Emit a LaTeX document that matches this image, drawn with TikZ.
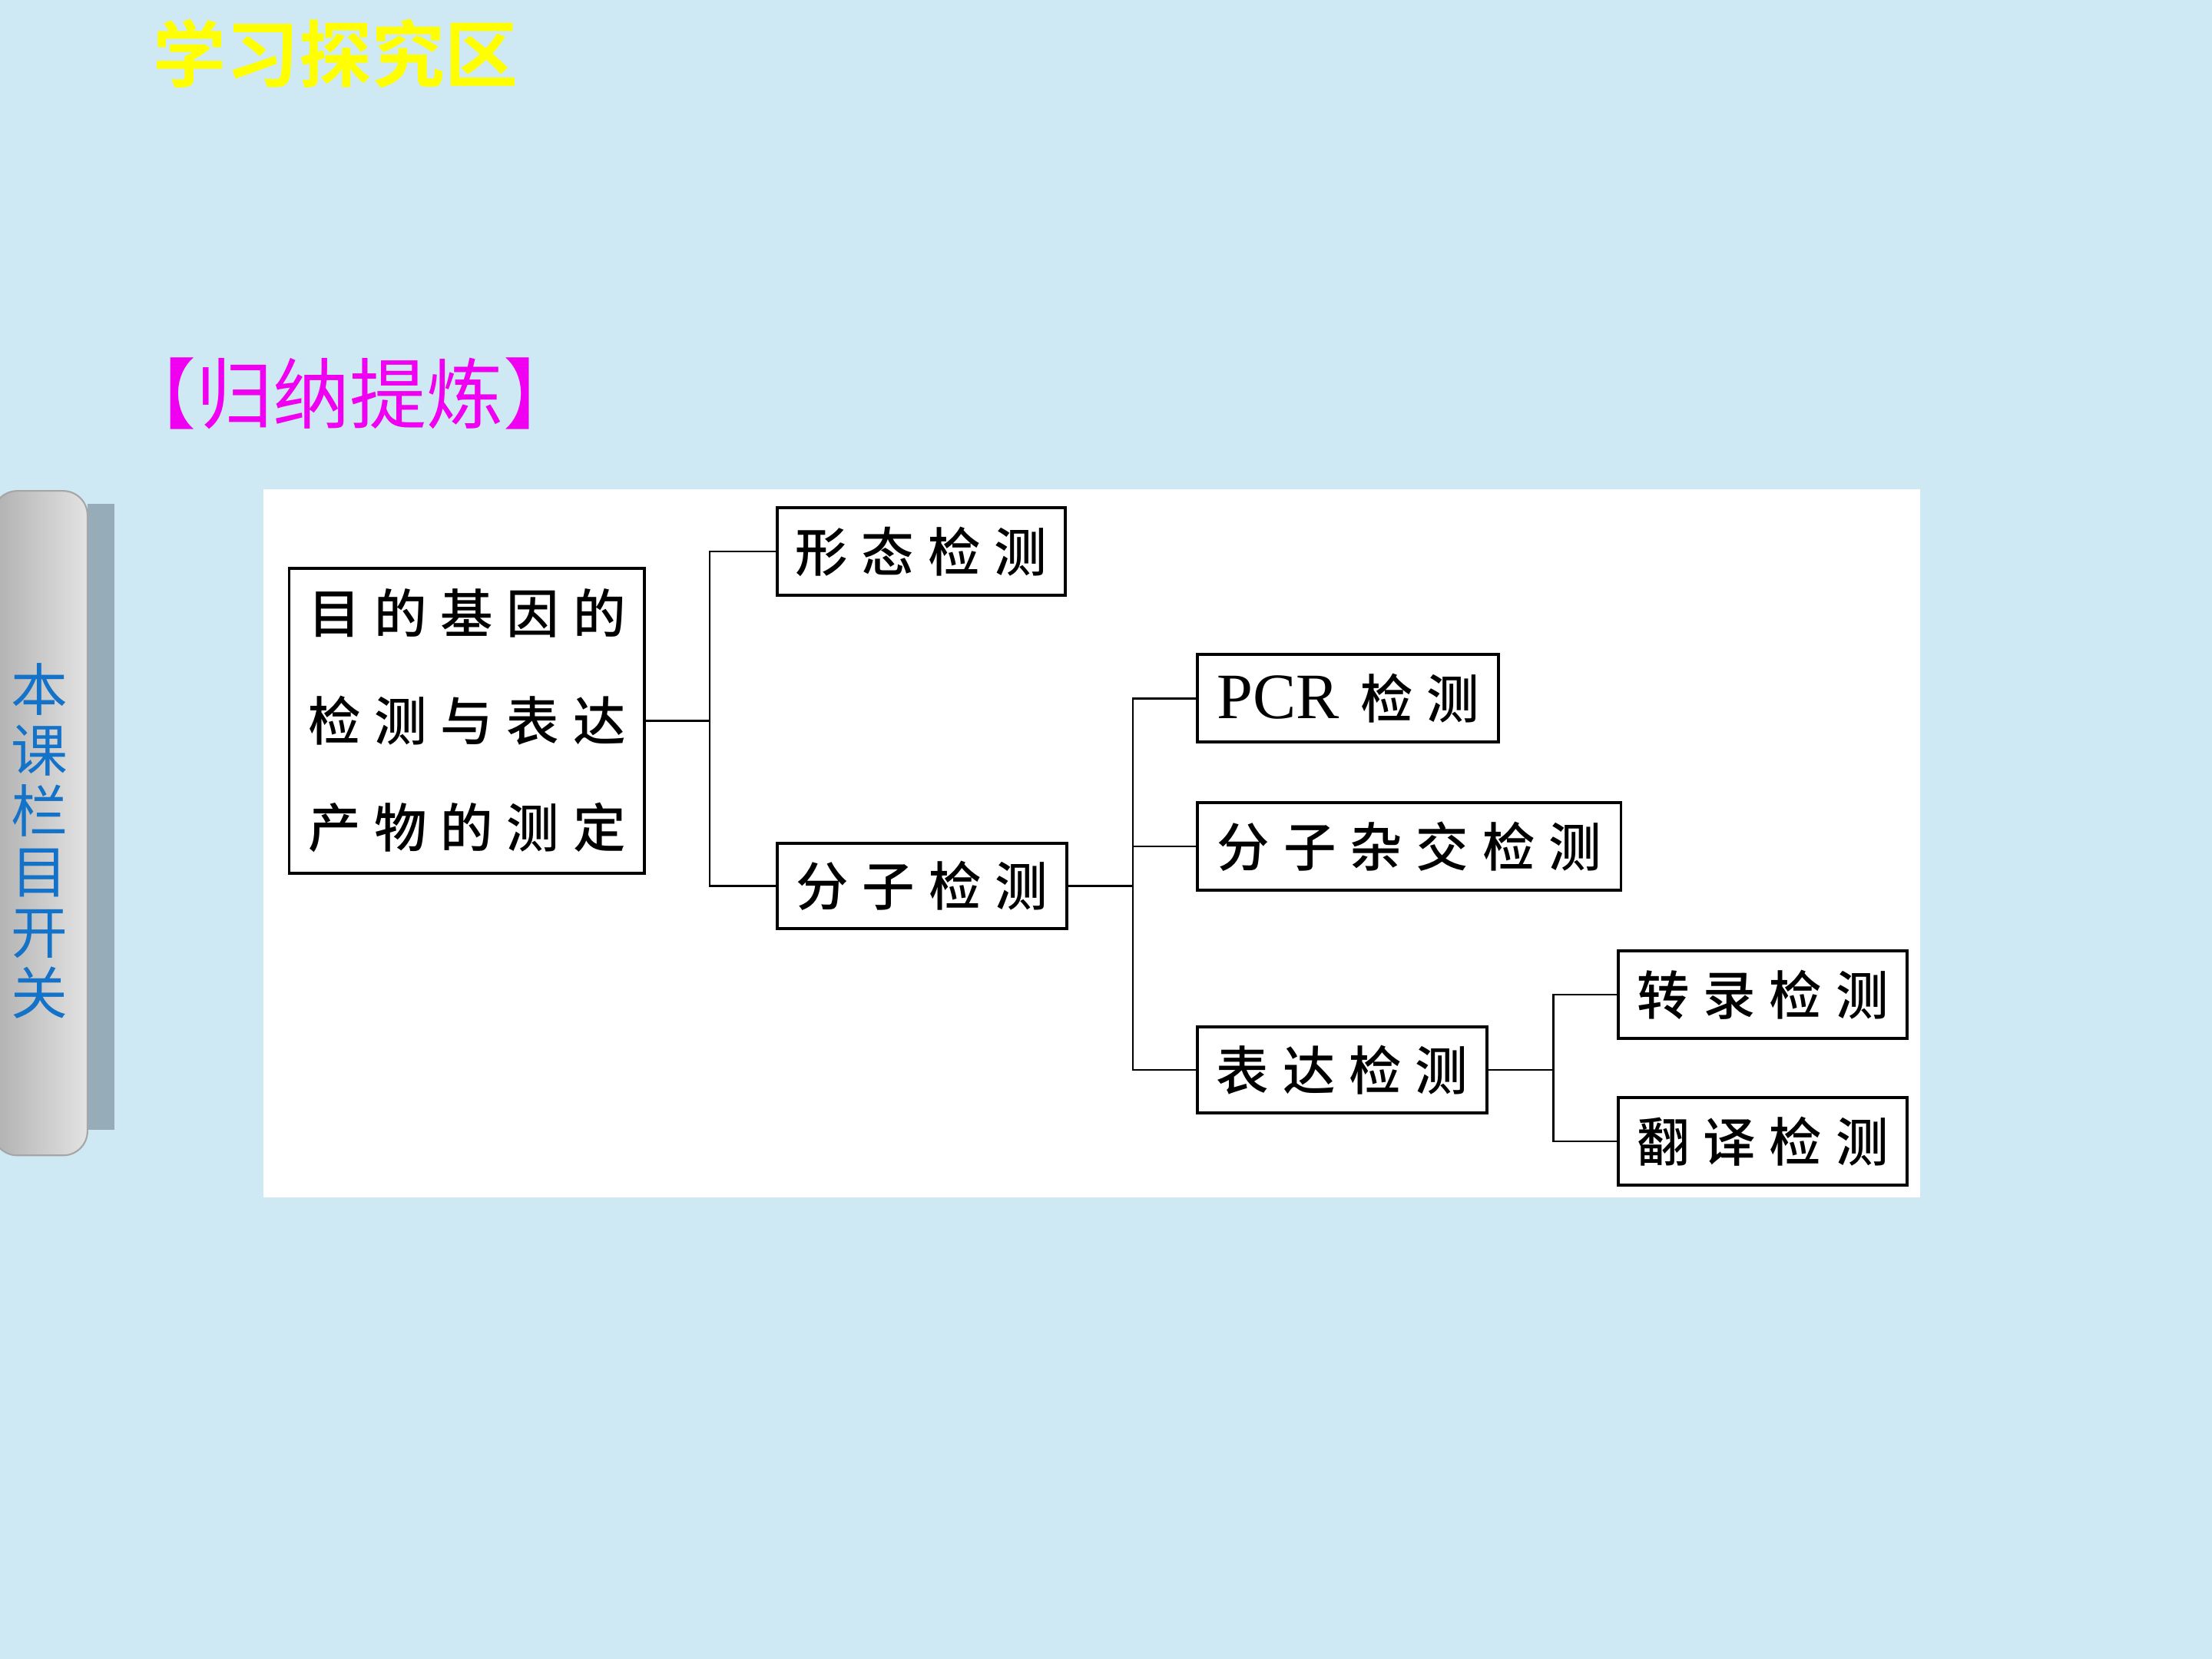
\documentclass[tikz,border=0pt]{standalone}
\usepackage{fontspec}
\newfontfamily\cjk{Noto Sans CJK SC}
\newfontfamily\cjkm{Noto Sans CJK SC Medium}
\newfontfamily\cjkb{Noto Sans CJK SC Bold}
\setmainfont{Liberation Serif}
\definecolor{bgblue}{RGB}{207,233,244}
\definecolor{tabblue}{RGB}{20,115,200}
\definecolor{shadowc}{RGB}{150,172,184}
\definecolor{ttlyellow}{RGB}{255,255,0}
\definecolor{ttlmag}{RGB}{240,0,240}
\newcommand\gp{\hspace{0.26em}}
\def\u{0.018367cm}
\tikzset{
  box/.style={draw=black, line width=1.1pt, fill=white, inner sep=0pt, anchor=center,
    font=\cjkm\fontsize{19.5}{24}\selectfont},
  conn/.style={draw=black, line width=0.75pt},
}
\begin{document}
\begin{tikzpicture}[x=0.018367cm, y=-0.018367cm]
\useasboundingbox (0,0) rectangle (1568,1176);
\fill[bgblue] (0,0) rectangle (1568,1176);
% titles
\node[text=ttlyellow, font=\cjkb\fontsize{27}{30}\selectfont, inner sep=0pt] (title) at (238,38) {学习探究区};
\node[text=ttlmag, font=\cjk\fontsize{28.5}{32}\selectfont, inner sep=0pt] (sub) at (248,279) {【归纳提炼】};
% side tab
\fill[shadowc] (62,357) rectangle (81,801);
\shade[left color=gray!62, right color=gray!22, rounded corners=9, draw=gray!70, line width=0.6pt]
  (-5,348) -- (62,348) -- (62,819) -- (-5,819) -- cycle;
\node[text=tabblue, font=\cjk\fontsize{21}{22.5}\selectfont, align=center, inner sep=0pt] (tab) at (28,596)
  {本\\课\\栏\\目\\开\\关};
% panel
\fill[white] (187,347) rectangle (1361,849);
% boxes
\node[box, minimum width=252*\u, minimum height=216*\u, align=center,
  font=\cjkm\fontsize{19.5}{39.7}\selectfont] (root) at (331,511)
  {目\gp{}的\gp{}基\gp{}因\gp{}的\\检\gp{}测\gp{}与\gp{}表\gp{}达\\产\gp{}物\gp{}的\gp{}测\gp{}定};
\node[box, minimum width=204*\u, minimum height=62*\u] (xt) at (653,391) {形\gp{}态\gp{}检\gp{}测};
\node[box, minimum width=205*\u, minimum height=60*\u] (fz) at (653.5,628) {分\gp{}子\gp{}检\gp{}测};
\node[box, minimum width=213*\u, minimum height=62*\u] (pcr) at (955.5,495)
  {{\fontsize{24}{24}\selectfont\rmfamily PCR}\hspace{0.4em}检\gp{}测};
\node[box, minimum width=300*\u, minimum height=62*\u] (zj) at (999,600) {分\gp{}子\gp{}杂\gp{}交\gp{}检\gp{}测};
\node[box, minimum width=205*\u, minimum height=61*\u] (bd) at (951.5,758.5) {表\gp{}达\gp{}检\gp{}测};
\node[box, minimum width=205*\u, minimum height=62*\u] (zl) at (1249.5,705) {转\gp{}录\gp{}检\gp{}测};
\node[box, minimum width=205*\u, minimum height=62*\u] (fy) at (1249.5,809) {翻\gp{}译\gp{}检\gp{}测};
% junctions
\coordinate (b1) at (503,511);
\coordinate (b2) at (803,628);
\coordinate (b3) at (1101,758.5);
% connectors
\draw[conn] (root.east) -- (b1);
\draw[conn] (xt.west) -- (xt.west -| b1) -- (fz.west -| b1) -- (fz.west);
\draw[conn] (fz.east) -- (b2);
\draw[conn] (pcr.west) -- (pcr.west -| b2) -- (bd.west -| b2) -- (bd.west);
\draw[conn] (zj.west) -- (zj.west -| b2);
\draw[conn] (bd.east) -- (b3);
\draw[conn] (zl.west) -- (zl.west -| b3) -- (fy.west -| b3) -- (fy.west);
\end{tikzpicture}
\end{document}
